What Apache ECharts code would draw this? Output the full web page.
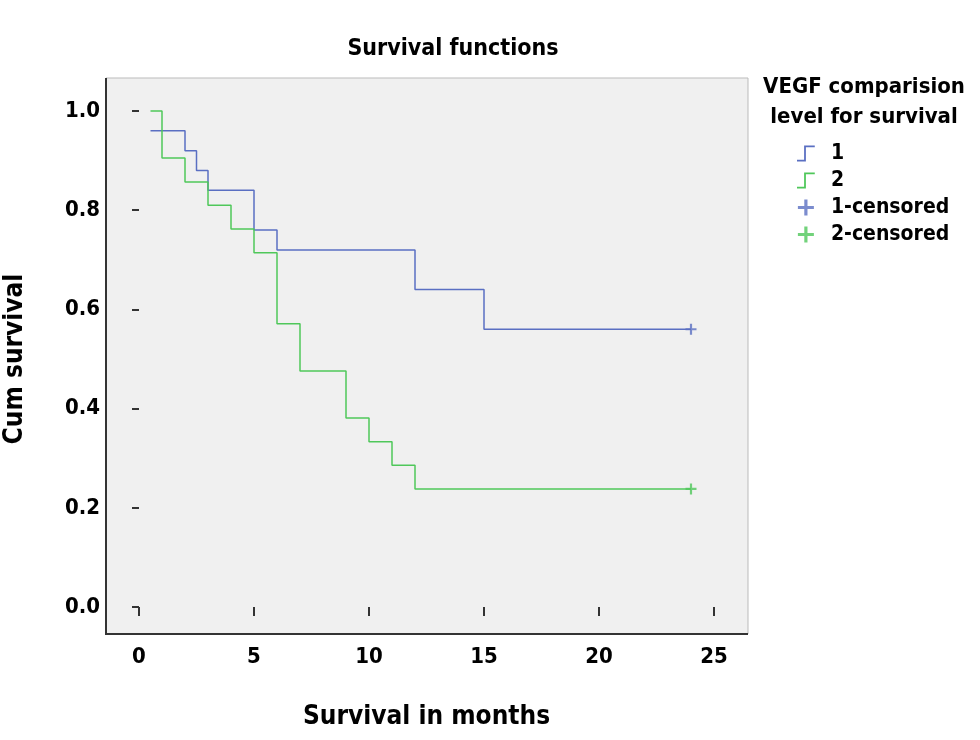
<!DOCTYPE html><html><head><meta charset="utf-8"><script src="https://cdn.jsdelivr.net/npm/echarts@6/dist/echarts.min.js"></script>
<style>body{margin:0;background:#fff}#c{width:980px;height:740px}</style></head><body><div id="c"></div><script>
const xTicks=[0,5,10,15,20,25];
const g1Time=[0.5,2,2.5,3,5,6,12,15,24];
const g1Surv=[0.96,0.92,0.88,0.84,0.76,0.72,0.64,0.56,0.56];
const g2Time=[0.5,1,2,3,4,5,6,7,9,10,11,12,24];
const g2Surv=[1.0,0.905,0.857,0.81,0.762,0.714,0.571,0.476,0.381,0.333,0.286,0.238,0.238];
const cens1=[[24,0.56]];
const cens2=[[24,0.238]];
const F='"DejaVu Sans Condensed","Liberation Sans Narrow",sans-serif';
const blue='#5a6fc2',green='#4fc75a';
const plus='path://M4,0H6V4H10V6H6V10H4V6H0V4H4Z';
const step='path://M0,9H4V1H10V2H5V10H0Z';
const ch=echarts.init(document.getElementById('c'));
ch.setOption({
 animation:false,
 title:{text:'Survival functions',left:448,top:33,textAlign:'center',textStyle:{fontFamily:F,fontSize:23,fontWeight:'bold',color:'#000'}},
 graphic:[
  {type:'rect',z:-1,shape:{x:106,y:78,width:642,height:556},style:{fill:'#f0f0f0',stroke:null}},
  {type:'polyline',shape:{points:[[106,78],[748,78],[748,634]]},style:{stroke:'#bbb',lineWidth:1,fill:null}},
  {type:'polyline',shape:{points:[[106,78],[106,634],[748,634]]},style:{stroke:'#333',lineWidth:2,fill:null}},
  {type:'text',x:864,y:72,style:{text:'VEGF comparision\nlevel for survival',align:'center',fill:'#000',font:'bold 22px '+F,lineHeight:30}}
 ],
 legend:{left:792,top:138,orient:'vertical',itemGap:6,itemWidth:40,itemHeight:16,textStyle:{fontFamily:F,fontSize:21,fontWeight:'bold',color:'#000'},
  data:[{name:'1',icon:step,itemStyle:{color:blue}},{name:'2',icon:step,itemStyle:{color:green}},
        {name:'1-censored',icon:plus,itemStyle:{color:blue}},{name:'2-censored',icon:plus,itemStyle:{color:green}}]},
 grid:{left:139,right:266,top:111,bottom:133,outerBoundsMode:'none',containLabel:false},
 xAxis:{type:'value',min:0,max:25,interval:5,offset:27,name:'Survival in months',nameLocation:'middle',nameGap:70,
  nameTextStyle:{fontFamily:F,fontSize:26,fontWeight:'bold',color:'#000'},
  axisLine:{show:false},axisTick:{show:true,length:9,lineStyle:{color:'#333',width:2}},splitLine:{show:false},
  axisLabel:{fontFamily:F,fontSize:22,fontWeight:'bold',color:'#000',margin:12}},
 yAxis:{type:'value',min:0,max:1,interval:0.2,offset:33,name:'Cum survival',nameLocation:'middle',nameGap:78,
  nameTextStyle:{fontFamily:F,fontSize:26,fontWeight:'bold',color:'#000'},
  axisLine:{show:false},axisTick:{show:true,length:7,lineStyle:{color:'#333',width:2}},splitLine:{show:false},
  axisLabel:{fontFamily:F,fontSize:22,fontWeight:'bold',color:'#000',margin:6,formatter:v=>v.toFixed(1)}},
 series:[
  {name:'1',type:'line',step:'end',symbol:'none',clip:false,data:g1Time.map((t,i)=>[t,g1Surv[i]]),lineStyle:{color:blue,width:1.5},itemStyle:{color:blue}},
  {name:'2',type:'line',step:'end',symbol:'none',clip:false,data:g2Time.map((t,i)=>[t,g2Surv[i]]),lineStyle:{color:green,width:1.5},itemStyle:{color:green}},
  {name:'1-censored',type:'scatter',symbol:plus,symbolSize:11,data:cens1,itemStyle:{color:blue}},
  {name:'2-censored',type:'scatter',symbol:plus,symbolSize:11,data:cens2,itemStyle:{color:green}}
 ]
});
</script></body></html>
